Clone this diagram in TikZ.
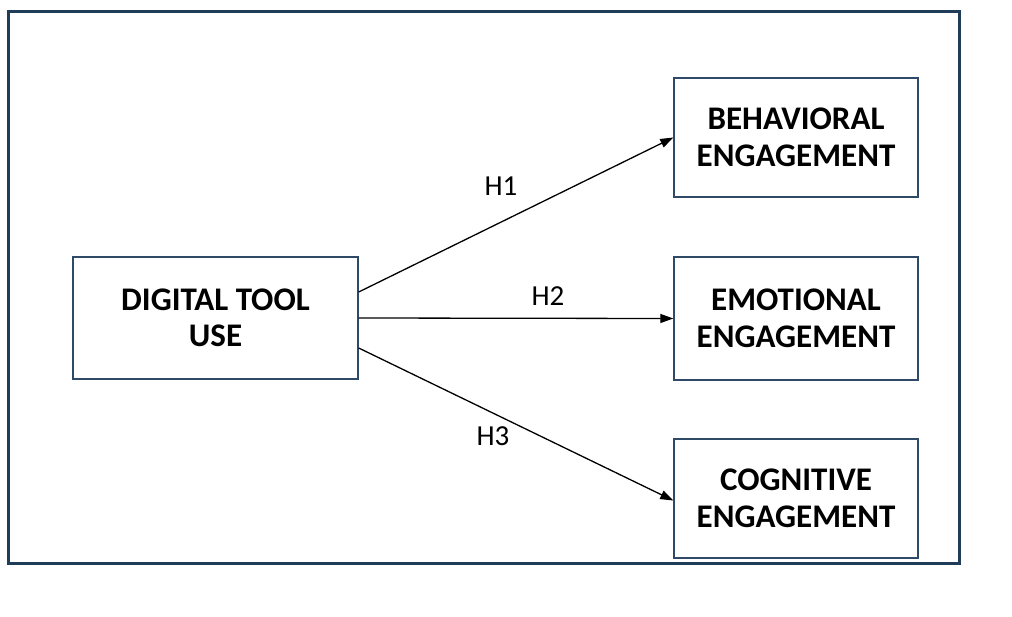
\documentclass[tikz,border=0pt]{standalone}
\usepackage{fontspec}
\setmainfont{Carlito}
\usetikzlibrary{arrows.meta}
\definecolor{frame}{HTML}{1F3D58}
\definecolor{boxline}{HTML}{2E4A66}
\tikzset{
  varbox/.style={draw=boxline, line width=1.4pt, fill=white, align=center,
    font=\fontsize{33}{36.5}\selectfont\bfseries, inner sep=0pt, anchor=center},
  hyp/.style={font=\fontsize{29}{32}\selectfont, inner sep=0pt, anchor=center},
  link/.style={line width=1.3pt, -{Triangle[length=13pt,width=9pt]}}
}
\begin{document}
\begin{tikzpicture}[x=1pt,y=-1pt]
\useasboundingbox (0,0) rectangle (1012,616);
\fill[white] (0,0) rectangle (1012,616);
\draw[frame, line width=3pt] (8.5,11.5) rectangle (959.5,563.5);
\node[varbox, minimum width=285pt, minimum height=122pt] (L) at (215.5,318) {DIGITAL TOOL\\USE};
\node[varbox, minimum width=244pt, minimum height=119pt] (B) at (796,137.5) {BEHAVIORAL\\ENGAGEMENT};
\node[varbox, minimum width=244pt, minimum height=123pt] (E) at (796,318.5) {EMOTIONAL\\ENGAGEMENT};
\node[varbox, minimum width=244pt, minimum height=119pt] (C) at (796,498.5) {COGNITIVE\\ENGAGEMENT};
\draw[link] ([yshift=26pt]L.east) -- (B.west);
\draw[link] (L.east) -- (E.west);
\draw[link] ([yshift=-30pt]L.east) -- ([yshift=-2pt]C.west);
\node[hyp] (h1) at (501,186) {H1};
\node[hyp] (h2) at (548,296) {H2};
\node[hyp] (h3) at (493,436) {H3};
\end{tikzpicture}
\end{document}
